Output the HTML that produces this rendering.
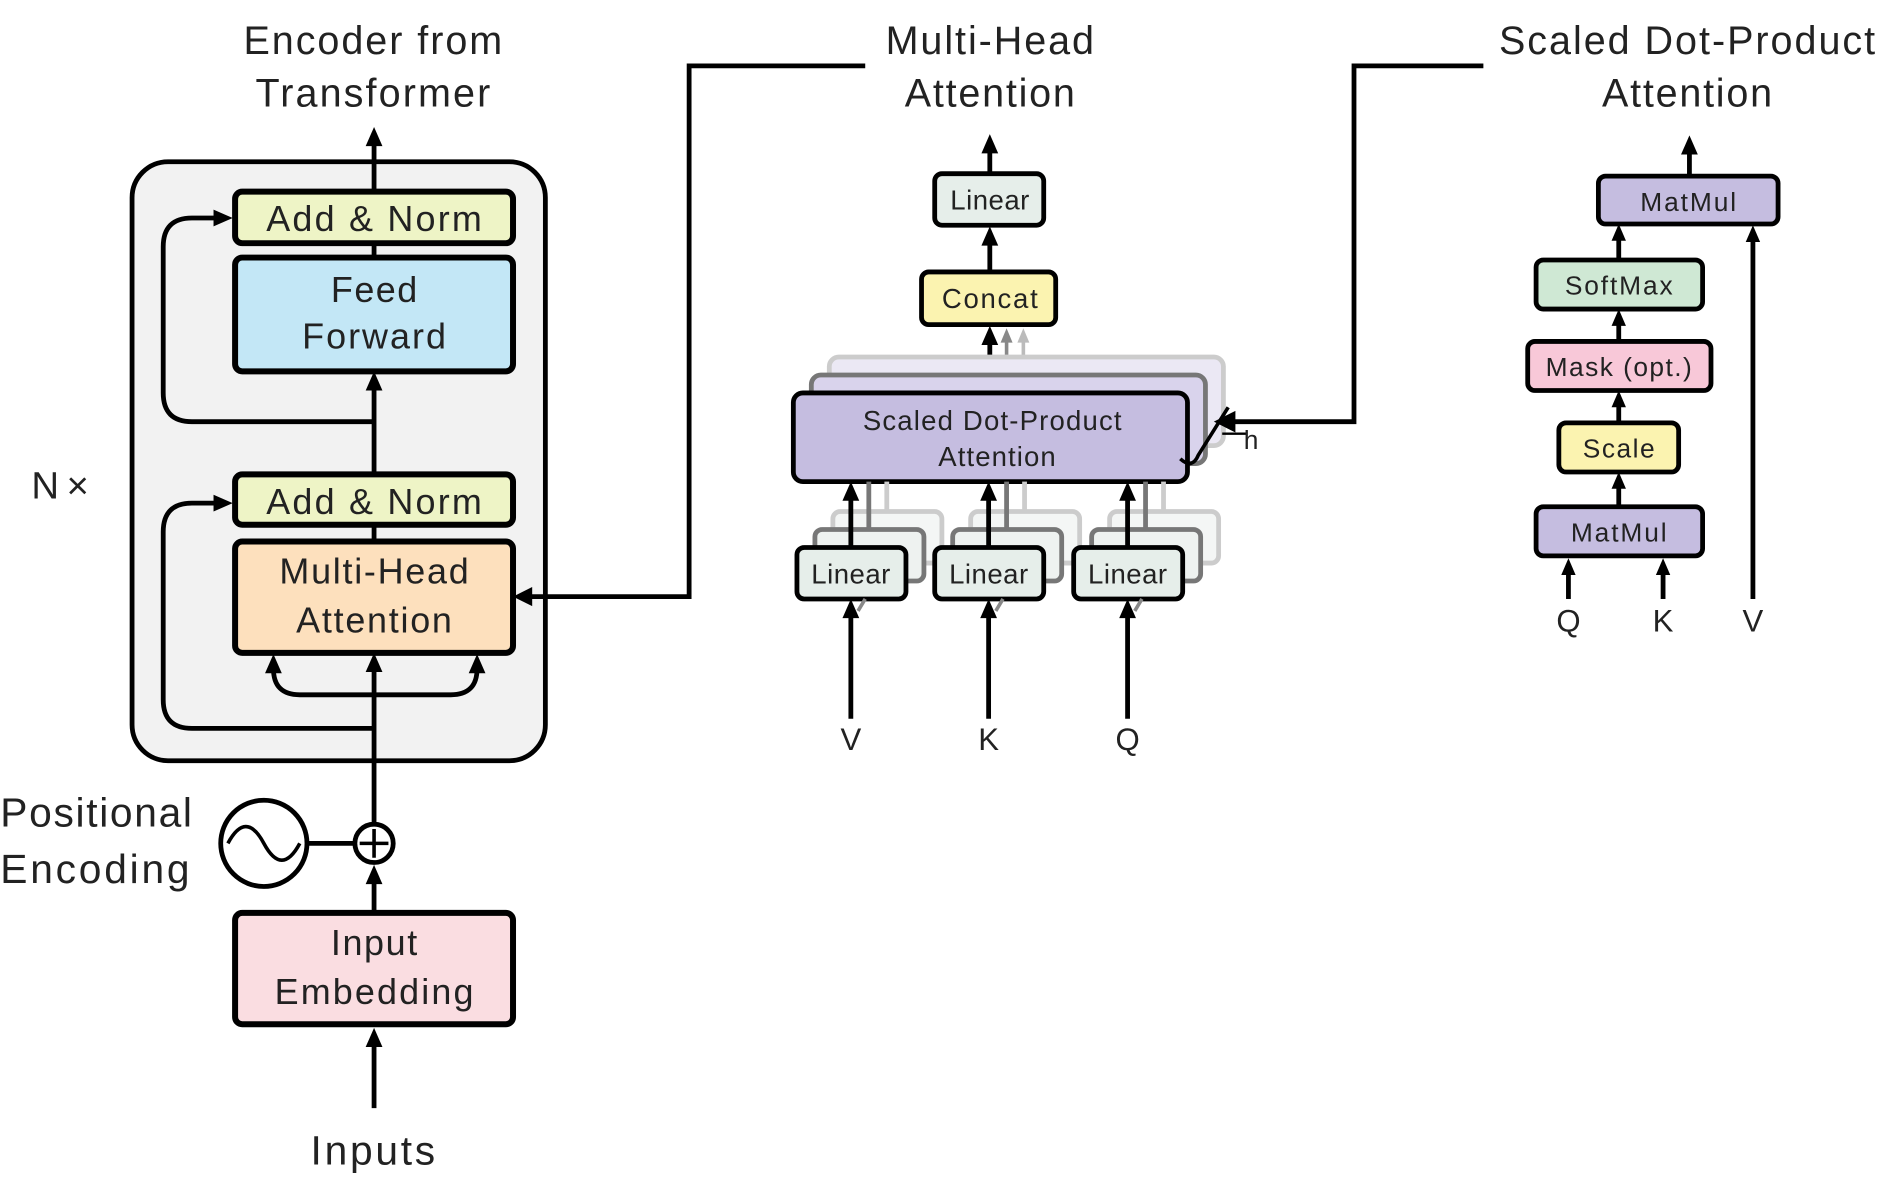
<!DOCTYPE html>
<html><head><meta charset="utf-8"><style>
html,body{margin:0;padding:0;background:#fff;}
svg{display:block;}
text{font-family:"Liberation Sans",sans-serif;fill:#222;}
</style></head><body>
<svg width="1879" height="1180" viewBox="0 0 1568 985" xmlns="http://www.w3.org/2000/svg">
<g stroke="#000" stroke-width="4" fill="none">
<rect x="110" y="135" width="345" height="500" rx="30" fill="#f2f2f2"/>
<line x1="312" y1="160" x2="312" y2="120"/>
<line x1="312" y1="215" x2="312" y2="203"/>
<line x1="312" y1="396" x2="312" y2="322"/>
<line x1="312" y1="452" x2="312" y2="438"/>
<line x1="312" y1="688" x2="312" y2="557"/>
<line x1="312" y1="762" x2="312" y2="734"/>
<line x1="312" y1="925" x2="312" y2="872"/>
<path d="M312 352 H160 Q136 352 136 328 V206 Q136 182 160 182 H184"/>
<path d="M312 608 H160 Q136 608 136 584 V444 Q136 420 160 420 H184"/>
<path d="M312 580 H250 Q228 580 228 558"/>
<path d="M312 580 H376 Q398 580 398 558"/>
<circle cx="220" cy="704" r="36" fill="#fff"/>
<path d="M190 704 Q205 676 220 704 T250 704" stroke-width="3"/>
<line x1="256" y1="704" x2="296" y2="704"/>
<circle cx="312" cy="704" r="16" fill="#fff"/>
<line x1="312" y1="692" x2="312" y2="716" stroke-width="3"/>
<line x1="300" y1="704" x2="324" y2="704" stroke-width="3"/>
<rect x="196" y="160" width="232" height="43" rx="6" fill="#eef4c6" stroke-width="5"/>
<rect x="196" y="215" width="232" height="95" rx="6" fill="#c3e7f6" stroke-width="5"/>
<rect x="196" y="396" width="232" height="42" rx="6" fill="#eef4c6" stroke-width="5"/>
<rect x="196" y="452" width="232" height="93" rx="6" fill="#fde0bd" stroke-width="5"/>
<rect x="196" y="762" width="232" height="93" rx="6" fill="#fadde1" stroke-width="5"/>
<path d="M440 498 H575 V55 H722"/>
<path d="M1238 55 H1130 V352 H1030"/>
<line x1="826" y1="145" x2="826" y2="124"/>
<line x1="826" y1="227" x2="826" y2="202"/>
<line x1="826" y1="328" x2="826" y2="284"/>
<g stroke="#888" stroke-width="3"><line x1="840" y1="313" x2="840" y2="284"/></g>
<g stroke="#bbb" stroke-width="3"><line x1="854" y1="298" x2="854" y2="284"/></g>
<rect x="692" y="298" width="329" height="74" rx="8" fill="#ebe8f4" stroke="#ccc" stroke-width="4"/>
<rect x="677" y="313" width="329" height="74" rx="8" fill="#d9d3ec" stroke="#777" stroke-width="4"/>
<rect x="662" y="328" width="329" height="74" rx="8" fill="#c5bde0"/>
<path d="M985 383 Q995 392 1000 380 L1025 340" stroke-width="3"/>
<line x1="1020" y1="362" x2="1040" y2="362" stroke-width="2"/>
<rect x="780" y="145" width="91" height="43" rx="6" fill="#e6eeea"/>
<rect x="769" y="227" width="112" height="44" rx="6" fill="#fbf3b0"/>
<g id="lin">
<rect x="695" y="427" width="91" height="43" rx="6" fill="#f4f6f5" stroke="#ccc"/>
<rect x="680" y="442" width="91" height="43" rx="6" fill="#eef2f0" stroke="#777"/>
<line x1="740" y1="427" x2="740" y2="402" stroke="#ccc"/>
<line x1="725" y1="442" x2="725" y2="402" stroke="#777"/>
<rect x="665" y="457" width="91" height="43" rx="6" fill="#e6eeea"/>
<line x1="710" y1="457" x2="710" y2="414"/>
<line x1="710" y1="600" x2="710" y2="512"/>
<line x1="716" y1="510" x2="722" y2="500" stroke="#888" stroke-width="3"/>
</g>
<use href="#lin" x="115"/>
<use href="#lin" x="231"/>
<line x1="1410" y1="147" x2="1410" y2="126"/>
<line x1="1351" y1="217" x2="1351" y2="199"/>
<line x1="1351" y1="285" x2="1351" y2="270"/>
<line x1="1351" y1="353" x2="1351" y2="338"/>
<line x1="1351" y1="423" x2="1351" y2="406"/>
<line x1="1463" y1="500" x2="1463" y2="200"/>
<line x1="1309" y1="500" x2="1309" y2="478"/>
<line x1="1388" y1="500" x2="1388" y2="478"/>
<rect x="1334" y="147" width="150" height="40" rx="6" fill="#c5bde0"/>
<rect x="1282" y="217" width="139" height="41" rx="6" fill="#cfe8d4"/>
<rect x="1275" y="285" width="153" height="41" rx="6" fill="#f8c8d8"/>
<rect x="1301" y="353" width="100" height="41" rx="6" fill="#fbf3b0"/>
<rect x="1282" y="423" width="139" height="41" rx="6" fill="#c5bde0"/>
</g>
<g fill="#000">
<path d="M312 106 l-7 16 h14z"/>
<path d="M312 310 l-7 16 h14z"/>
<path d="M312 545 l-7 16 h14z"/>
<path d="M312 722 l-7 16 h14z"/>
<path d="M312 858 l-7 16 h14z"/>
<path d="M194 182 l-16 -7 v14z"/>
<path d="M194 420 l-16 -7 v14z"/>
<path d="M228 546 l-7 16 h14z"/>
<path d="M398 546 l-7 16 h14z"/>
<path d="M428 498 l16 -8 v16z"/>
<path d="M1013 352 l18 -9 v18z"/>
<path d="M826 112 l-7 16 h14z"/>
<path d="M826 189 l-7 16 h14z"/>
<path d="M826 272 l-7 16 h14z"/>
<path d="M840 274 l-5 12 h10z" fill="#888"/>
<path d="M854 274 l-5 12 h10z" fill="#bbb"/>
<path d="M710 402 l-7 16 h14z"/>
<path d="M825 402 l-7 16 h14z"/>
<path d="M941 402 l-7 16 h14z"/>
<path d="M710 500 l-7 16 h14z"/>
<path d="M825 500 l-7 16 h14z"/>
<path d="M941 500 l-7 16 h14z"/>
<path d="M1410 113 l-7 16 h14z"/>
<path d="M1351 187 l-6 14 h12z"/>
<path d="M1351 258 l-6 14 h12z"/>
<path d="M1351 326 l-6 14 h12z"/>
<path d="M1351 394 l-6 14 h12z"/>
<path d="M1463 188 l-6 14 h12z"/>
<path d="M1309 466 l-6 14 h12z"/>
<path d="M1388 466 l-6 14 h12z"/>
</g>
<g text-anchor="middle">
<text x="311" y="45" font-size="33" textLength="216">Encoder from</text>
<text x="311" y="89" font-size="33" textLength="196">Transformer</text>
<text x="826" y="45" font-size="33" textLength="174">Multi-Head</text>
<text x="826" y="89" font-size="33" textLength="142">Attention</text>
<text x="1408" y="45" font-size="33" textLength="314">Scaled Dot-Product</text>
<text x="1408" y="89" font-size="33" textLength="142">Attention</text>
<text x="312" y="193" font-size="30" textLength="180">Add &amp; Norm</text>
<text x="312" y="252" font-size="30" textLength="72">Feed</text>
<text x="312" y="291" font-size="30" textLength="120">Forward</text>
<text x="312" y="429" font-size="30" textLength="180">Add &amp; Norm</text>
<text x="312" y="487" font-size="30" textLength="158">Multi-Head</text>
<text x="312" y="528" font-size="30" textLength="130">Attention</text>
<text x="312" y="797" font-size="30" textLength="72">Input</text>
<text x="312" y="838" font-size="30" textLength="166">Embedding</text>
<text x="311" y="972" font-size="34" textLength="104">Inputs</text>
<text x="826" y="175" font-size="23" textLength="66">Linear</text>
<text x="826" y="257" font-size="23" textLength="80">Concat</text>
<text x="828" y="359" font-size="23" textLength="216">Scaled Dot-Product</text>
<text x="832" y="389" font-size="23" textLength="98">Attention</text>
<text x="710" y="487" font-size="23" textLength="66">Linear</text>
<text x="825" y="487" font-size="23" textLength="66">Linear</text>
<text x="941" y="487" font-size="23" textLength="66">Linear</text>
<text x="710" y="626" font-size="26">V</text>
<text x="825" y="626" font-size="26">K</text>
<text x="941" y="626" font-size="26">Q</text>
<text x="1409" y="176" font-size="22" textLength="80">MatMul</text>
<text x="1351" y="246" font-size="22" textLength="90">SoftMax</text>
<text x="1351" y="314" font-size="22" textLength="122">Mask (opt.)</text>
<text x="1351" y="382" font-size="22" textLength="60">Scale</text>
<text x="1351" y="452" font-size="22" textLength="80">MatMul</text>
<text x="1309" y="527" font-size="26">Q</text>
<text x="1388" y="527" font-size="26">K</text>
<text x="1463" y="527" font-size="26">V</text>
</g>
<text x="1038" y="375" font-size="22">h</text>
<text x="26" y="416" font-size="32" fill="#444" textLength="48">N×</text>
<text x="0" y="690" font-size="34" fill="#444" textLength="160">Positional</text>
<text x="0" y="737" font-size="34" fill="#444" textLength="158">Encoding</text>
</svg>
</body></html>
